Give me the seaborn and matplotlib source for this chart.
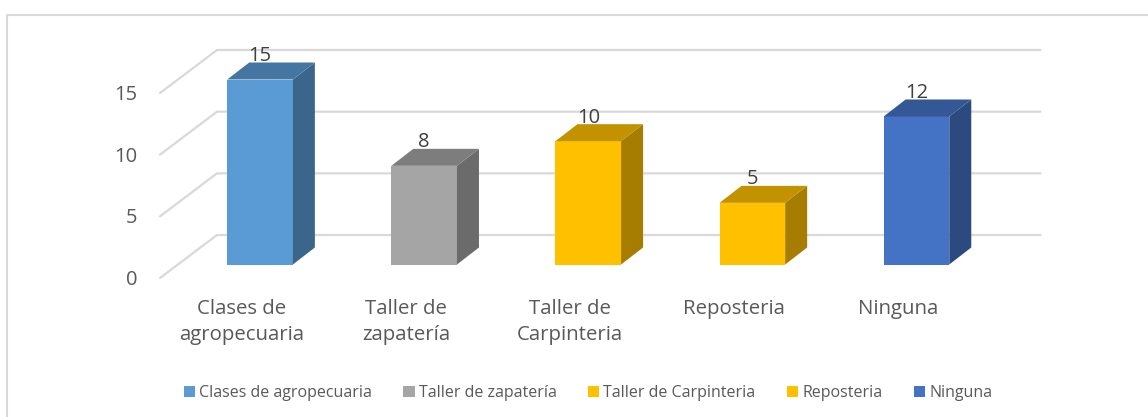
import matplotlib
matplotlib.use('Agg')
import matplotlib.pyplot as plt
import matplotlib.colors as mcolors
from matplotlib.lines import Line2D
from matplotlib.patches import Polygon
from matplotlib.transforms import ScaledTranslation
import seaborn as sns

categories = ["Clases de agropecuaria", "Taller de zapatería", "Taller de Carpinteria", "Reposteria", "Ninguna"]
tick_labels = ["Clases de\nagropecuaria", "Taller de\nzapatería", "Taller de\nCarpinteria", "Reposteria", "Ninguna"]
values = [15, 8, 10, 5, 12]
y_ticks = [0, 5, 10, 15]
colors = ["#5B9BD5", "#A5A5A5", "#FFC000", "#FFC000", "#4472C4"]

W, H = 1148, 417

sns.set_theme(style="white")
plt.rcParams['font.family'] = ['Open Sans', 'DejaVu Sans']

fig = plt.figure(figsize=(W / 100, H / 100), dpi=100)
fig.patch.set_facecolor("white")
# axes = plane of the front of the bars, everything 3d is offset from it in pixels
ax = fig.add_axes([178 / W, 1 - 264.5 / H, 820.5 / W, 185 / H])
ax.set_facecolor("none")
ax.set_zorder(2)

sns.barplot(x=categories, y=values, hue=categories, palette=colors, hue_order=categories,
            order=categories, width=0.4, dodge=False, saturation=1, linewidth=0, legend=True, ax=ax)
ax.set_xlim(-0.5, 4.5)
ax.set_ylim(0, 15)
sns.despine(ax=ax, left=True, bottom=True)


def px_offset(dx, dy):
    return ax.transData + ScaledTranslation(dx / 100, dy / 100, fig.dpi_scale_trans)


# walls
back = px_offset(39, 29.5)
front = px_offset(-18, -13.5)
back_right = px_offset(42, 29.5)
grid_color = "#D9D9D9"
for v in y_ticks:
    p0 = front.transform((-0.5, v))
    p1 = back.transform((-0.5, v))
    p2 = back_right.transform((4.5, v))
    fig.add_artist(Line2D([p0[0] / W, p1[0] / W, p2[0] / W], [p0[1] / H, p1[1] / H, p2[1] / H],
                          color=grid_color, lw=1.6, zorder=0.5, solid_joinstyle="round"))

# 3d faces of the bars
unit_x = 820.5 / 5
unit_y = 185 / 15
dx = 22 / unit_x
dy = 17 / unit_y
label_gap = 1.5 / unit_y
for bar, value, color in zip(list(ax.patches), values, colors):
    x0 = bar.get_x()
    x1 = x0 + bar.get_width()
    rgb = mcolors.to_rgb(color)
    side = [c * 0.65 for c in rgb]
    top = [c * 0.76 for c in rgb]
    ax.add_patch(Polygon([(x1, 0), (x1, value), (x1 + dx, value + dy), (x1 + dx, dy)],
                         facecolor=side, edgecolor="none", clip_on=False))
    ax.add_patch(Polygon([(x0, value), (x1, value), (x1 + dx, value + dy), (x0 + dx, value + dy)],
                         facecolor=top, edgecolor="none", clip_on=False))
    ax.text((x0 + x1) / 2, value + dy + label_gap, str(value), ha="center", va="baseline",
            fontsize=14.5, color="#404040", zorder=6, clip_on=False)

# ticks
ax.set_xticks(range(len(tick_labels)))
ax.set_xticklabels(tick_labels, fontsize=14.7, color="#595959", linespacing=1.38)
ax.set_yticks(y_ticks)
ax.set_yticklabels([str(v) for v in y_ticks], fontsize=14.5, color="#595959")
ax.tick_params(axis="x", length=0, pad=25)
ax.tick_params(axis="y", length=0, pad=29)
for lab in ax.get_xticklabels():
    lab.set_transform(lab.get_transform() + ScaledTranslation(-18 / 100, 0, fig.dpi_scale_trans))
for lab in ax.get_yticklabels():
    lab.set_transform(lab.get_transform() + ScaledTranslation(0, -13 / 100, fig.dpi_scale_trans))

# legend
sns.move_legend(ax, "center", bbox_to_anchor=(588 / W, 1 - 393 / H), bbox_transform=fig.transFigure,
                ncol=5, frameon=False, title=None, fontsize=11.5, handlelength=0.7, handleheight=0.7,
                handletextpad=0.27, columnspacing=1.95, labelcolor="#595959")

# chart area border, only left and top are in the crop
border = "#D9D9D9"
fig.add_artist(Line2D([7 / W, 7 / W, 1], [0, 1 - 15 / H, 1 - 15 / H], color=border, lw=1.5))

fig.savefig("out.png", dpi=100)
